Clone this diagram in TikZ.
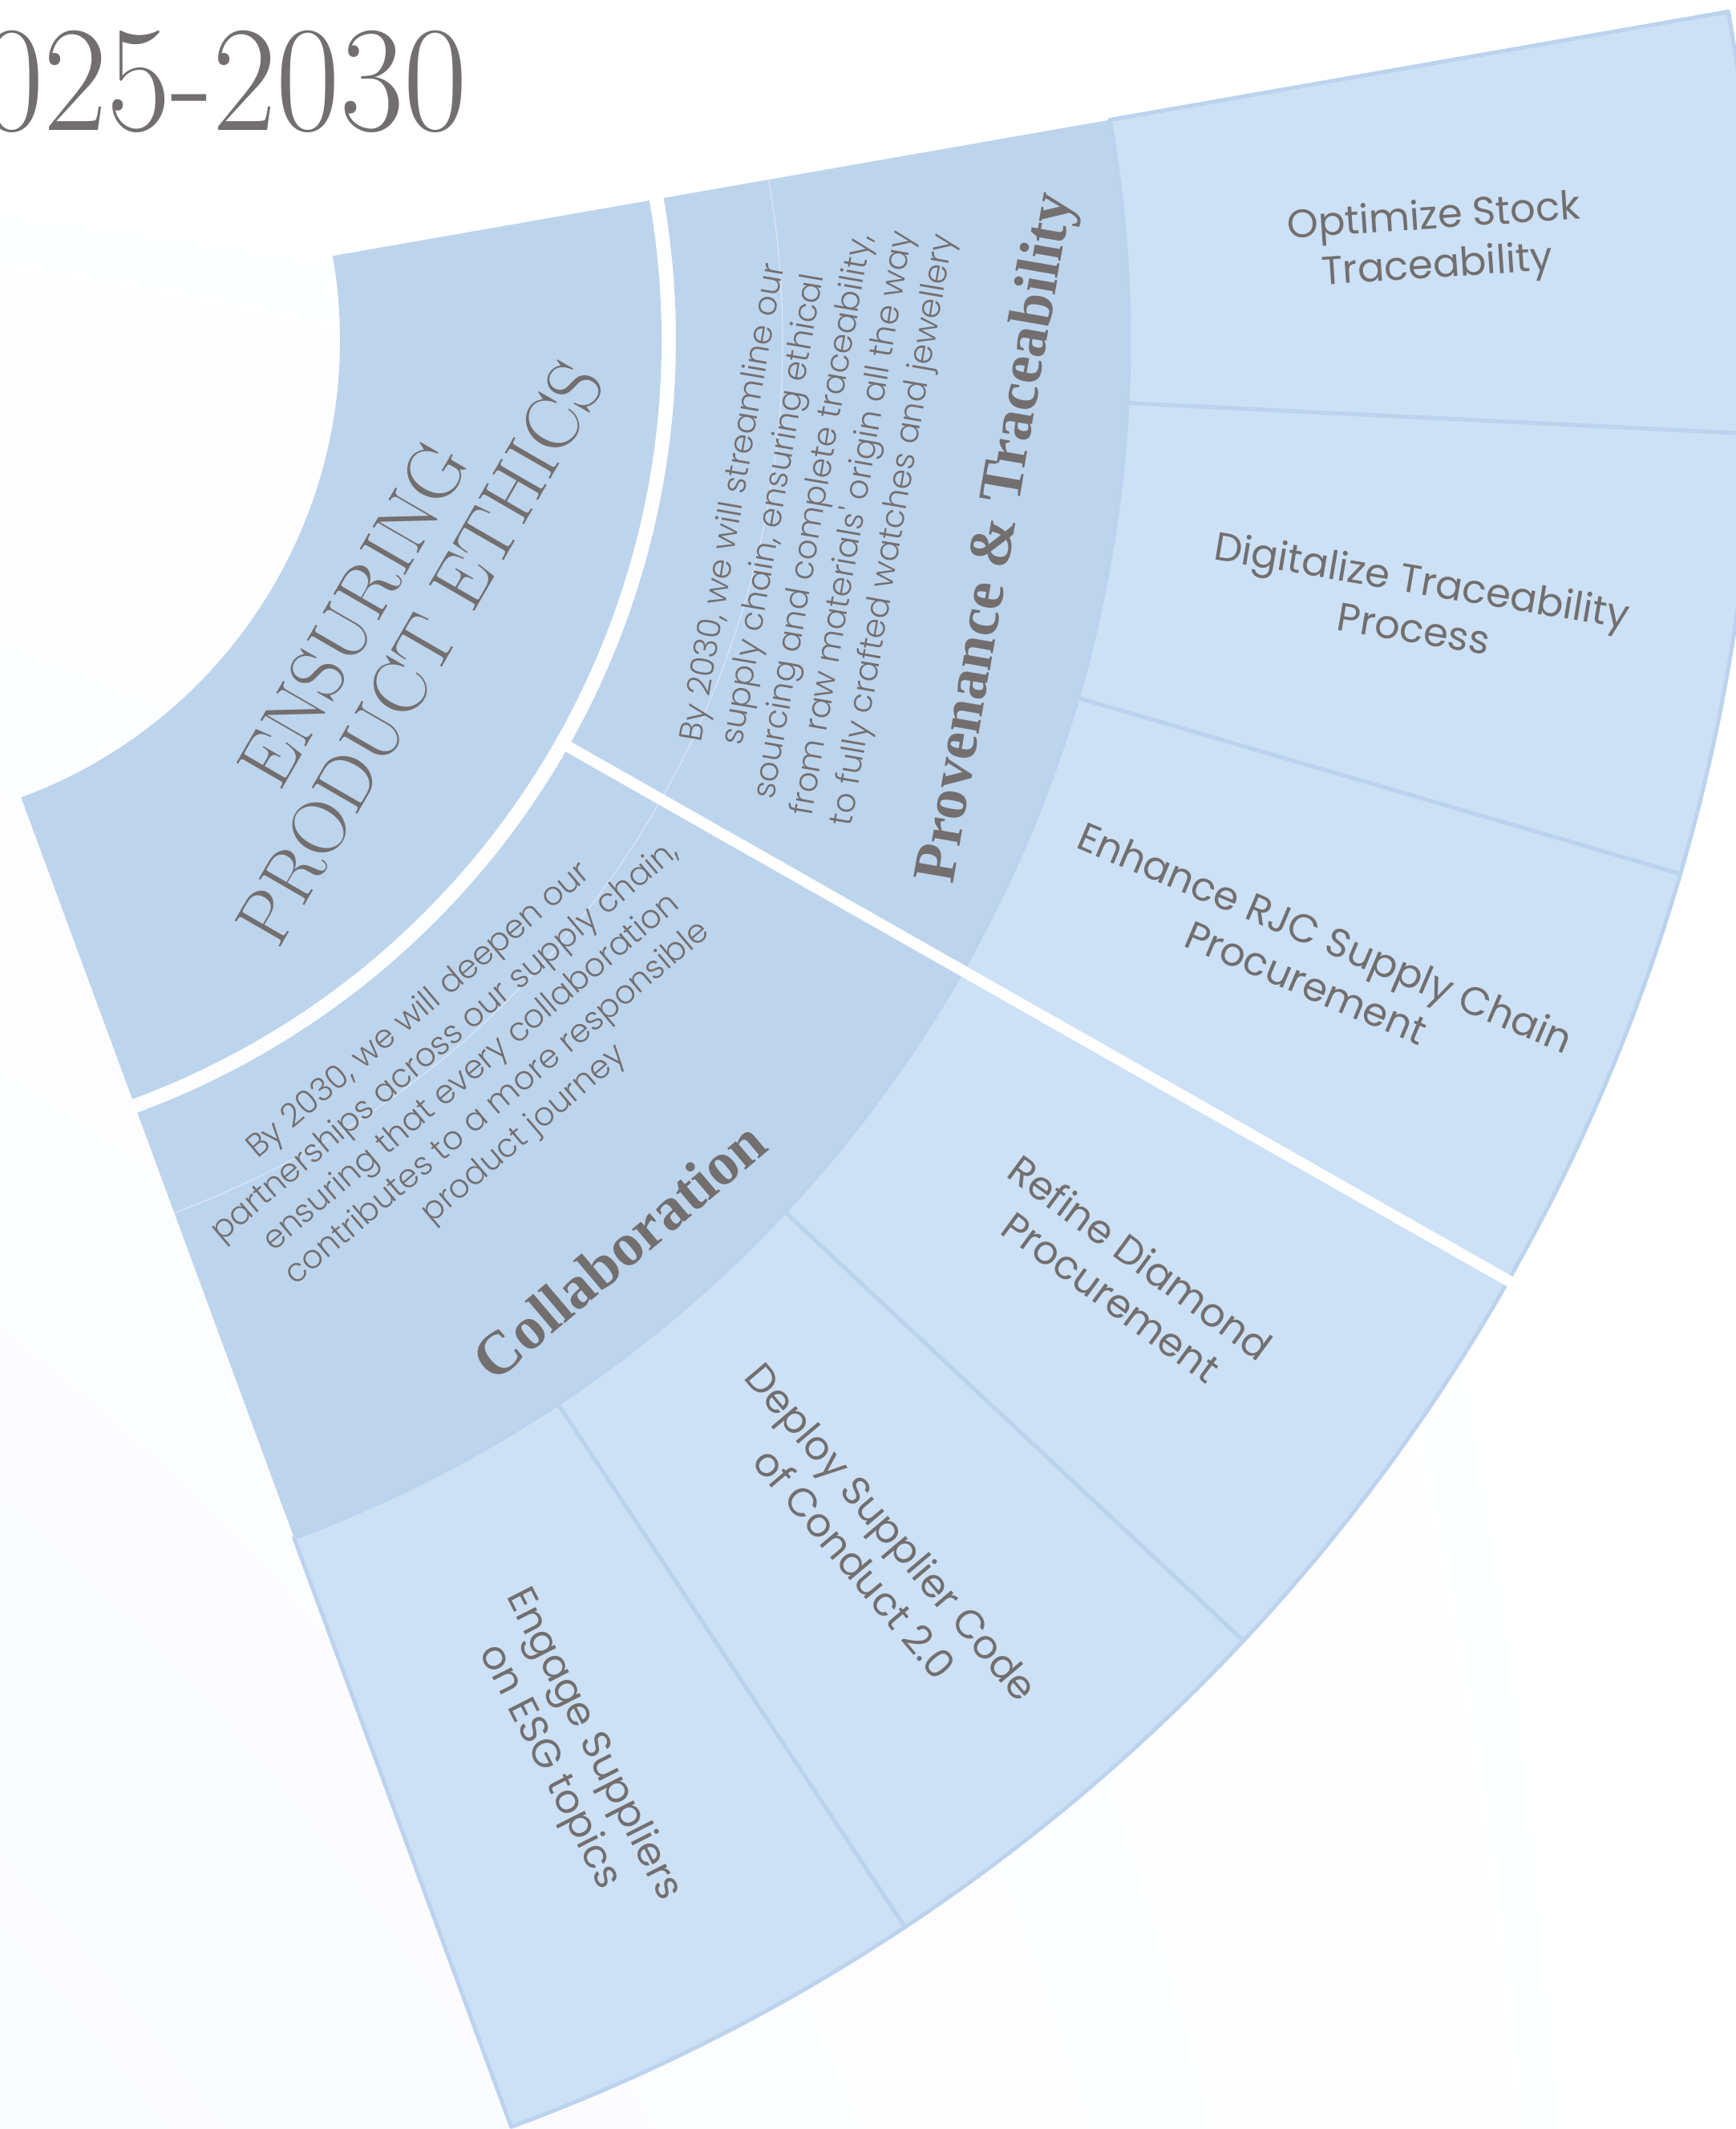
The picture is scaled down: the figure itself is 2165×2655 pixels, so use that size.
\documentclass[tikz,border=0pt]{standalone}
\usepackage{graphicx}
\usepackage{fontspec}
\usetikzlibrary{shadings}
\newfontfamily\popfont{Poppins}
\IfFontExistsTF{Poppins Light}{\newfontfamily\poplight{Poppins Light}}{\newfontfamily\poplight{Poppins}}
\newfontfamily\labfont{Liberation Serif}
\definecolor{ringA}{HTML}{BDD4ED}
\definecolor{ringB}{HTML}{CCE1F6}
\definecolor{edgeB}{HTML}{BCD3EE}
\definecolor{txt}{HTML}{736F6F}
\definecolor{bgtint}{HTML}{FAFBFE}
\tikzset{
  every node/.style={inner sep=0pt, outer sep=0pt},
  titletext/.style={text=txt, anchor=base east, font=\fontsize{188}{188}\selectfont},
  ethicstext/.style={text=txt, align=center, font=\fontsize{96}{97}\selectfont},
  labtext/.style={text=txt, font=\labfont\bfseries\fontsize{76}{80}\selectfont},
  desctext/.style={text=txt, align=center, font=\poplight\fontsize{40.5}{50.5}\selectfont},
  leaftext/.style={text=txt, align=center, font=\popfont\fontsize{49.5}{61}\selectfont},
  innersec/.style={fill=ringA},
  leafsec/.style={fill=ringB, draw=edgeB, line width=5pt, line join=round},
}
\newcommand\sectorpath[5]{%
  \path[#1] (#2:#4) arc[start angle=#2, end angle=#3, radius=#4 pt]
    -- (#3:#5) arc[start angle=#3, end angle=#2, radius=#5 pt] -- cycle;}
\begin{document}
\begin{tikzpicture}[x=1pt, y=1pt]
\useasboundingbox (0,0) rectangle (2165,-2655);
\shade[lower left=bgtint, lower right=white, upper left=white, upper right=white] (0,0) rectangle (2165,-2655);
\clip (0,0) rectangle (2165,-2655);

\node[titletext] (title) at (583,-162.7) {\scalebox{0.92}[1]{2025-2030}};

\begin{scope}[shift={(-184,-424)}]
  % inner ring
  \sectorpath{innersec}{9.93}{-69.76}{608}{1009}
  % middle ring
  \sectorpath{innersec}{9.93}{-29.6}{1027}{1592}
  \sectorpath{innersec}{-29.6}{-69.76}{1027}{1592}
  % faint seam
  \draw[white, opacity=0.45, line width=1.2pt] (9.93:1160) arc[start angle=9.93, end angle=-69.76, radius=1160pt];
  % leaves
  \sectorpath{leafsec}{9.93}{-2.83}{1592}{2375}
  \sectorpath{leafsec}{-2.83}{-16.28}{1592}{2375}
  \sectorpath{leafsec}{-16.28}{-29.6}{1592}{2375}
  \sectorpath{leafsec}{-29.6}{-43.08}{1592}{2375}
  \sectorpath{leafsec}{-43.08}{-56.45}{1592}{2375}
  \sectorpath{leafsec}{-56.45}{-69.76}{1592}{2375}
  % white gap between the two branches
  \draw[white, line width=14pt] (-29.6:1018) -- (-29.6:2430);

  % texts
  \node[ethicstext, rotate=60] (ethics) at (-28.8:760) {ENSURING\\PRODUCT ETHICS};

  \node[labtext, rotate=80.2] (prov) at (-9.8:1450) {Provenance \& Traceability};
  \node[labtext, rotate=40.3] (collab) at (-49.9:1484) {Collaboration};

  \node[desctext, rotate=80.2] (provdesc) at (-10.4:1220)
    {By 2030, we will streamline our\\supply chain, ensuring ethical\\sourcing and complete traceability,\\from raw materials' origin all the way\\to fully crafted watches and jewellery};
  \node[desctext, rotate=40.3] (collabdesc) at (-49.8:1197)
    {By 2030, we will deepen our\\partnerships across our supply chain,\\ensuring that every collaboration\\contributes to a more responsible\\product journey};

  \node[leaftext, rotate=3.8] (leafa) at (3.5:1978) {Optimize Stock\\Traceability};
  \node[leaftext, rotate=-9.56] (leafb) at (-9.56:1980) {Digitalize Traceability\\Process};
  \node[leaftext, rotate=-22.94] (leafc) at (-22.94:1982) {Enhance RJC Supply Chain\\Procurement};
  \node[leaftext, rotate=-36.34] (leafd) at (-36.34:1972) {Refine Diamond\\Procurement};
  \node[leaftext, rotate=-49.77] (leafe) at (-49.77:1972) {Deploy Supplier Code\\of Conduct 2.0};
  \node[leaftext, rotate=-63.1] (leaff) at (-63.1:1980) {Engage Suppliers\\on ESG topics};
\end{scope}
\end{tikzpicture}
\end{document}
